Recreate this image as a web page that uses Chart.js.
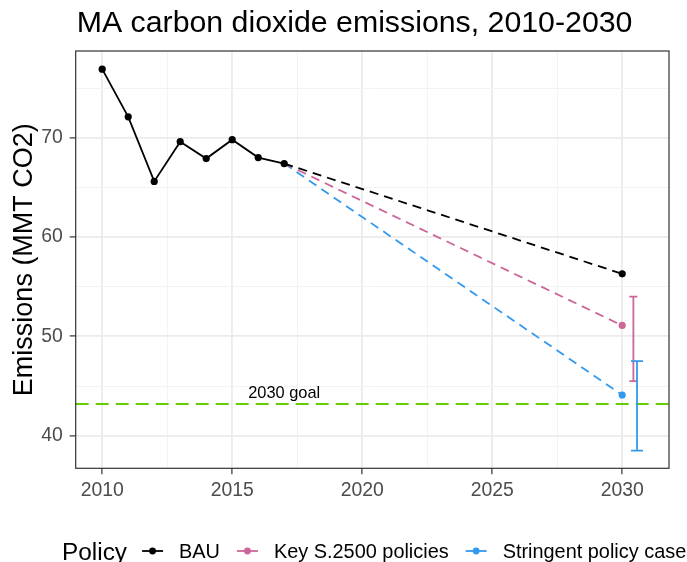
<!DOCTYPE html>
<html>
<head>
<meta charset="utf-8">
<script src="https://cdn.jsdelivr.net/npm/chart.js@4.4.1/dist/chart.umd.min.js"></script>
<style>
  html, body { margin: 0; padding: 0; background: #ffffff; }
  #wrap { width: 687px; height: 562px; }
</style>
</head>
<body>
<div id="wrap"><canvas id="c" width="687" height="562"></canvas></div>
<script>
// Massachusetts CO2 emissions (MMT CO2): history and 2030 projections
const years = [2010, 2011, 2012, 2013, 2014, 2015, 2016, 2017];
const bauHistory = [76.9, 72.1, 65.6, 69.6, 67.9, 69.8, 68.0, 67.4];

const projectionYears = [2017, 2030];
const bauProjection = [67.4, 56.3];
const keyPolicyProjection = [67.4, 51.1];
const stringentProjection = [67.4, 44.1];

// 2030 uncertainty ranges [low, high]
const keyPolicyRange = [45.5, 54.0];
const stringentRange = [38.5, 47.5];

const goal2030 = 43.2;
const goalLabel = '2030 goal';

const xTicks = [2010, 2015, 2020, 2025, 2030];
const yTicks = [40, 50, 60, 70];
const policyNames = ['BAU', 'Key S.2500 policies', 'Stringent policy case'];

const FONT = "'Liberation Sans', Arial, Helvetica, sans-serif";
const COLORS = ['#000000', '#CC6699', '#3399EE'];
const GOAL_COLOR = '#66CC00';

// minor grid lines sit halfway between major ticks
function withMinor(ticks) {
  const out = [];
  const step = ticks[1] - ticks[0];
  for (let i = 0; i < ticks.length; i++) {
    out.push(ticks[i]);
    out.push(ticks[i] + step / 2);
  }
  out.unshift(ticks[0] - step / 2);
  return out;
}
const xGrid = withMinor(xTicks);
const yGrid = withMinor(yTicks);

const pts = (xs, ys) => xs.map((x, i) => ({ x: x, y: ys[i] }));

const POINT_R = 3.6;
const LINE_W = 1.8;
const projRadius = ctx => (ctx.dataIndex === 0 ? 0 : POINT_R);

const datasets = [
  { label: policyNames[0], data: pts(years, bauHistory), borderColor: COLORS[0], backgroundColor: COLORS[0],
    borderWidth: LINE_W, pointRadius: POINT_R, pointBorderWidth: 0 },
  { label: policyNames[0], data: pts(projectionYears, bauProjection), borderColor: COLORS[0], backgroundColor: COLORS[0],
    borderWidth: LINE_W, borderDash: [9, 6], pointRadius: projRadius, pointBorderWidth: 0 },
  { label: policyNames[1], data: pts(projectionYears, keyPolicyProjection), borderColor: COLORS[1], backgroundColor: COLORS[1],
    borderWidth: LINE_W, borderDash: [9, 6], pointRadius: projRadius, pointBorderWidth: 0 },
  { label: policyNames[2], data: pts(projectionYears, stringentProjection), borderColor: COLORS[2], backgroundColor: COLORS[2],
    borderWidth: LINE_W, borderDash: [9, 6], pointRadius: projRadius, pointBorderWidth: 0 }
];

// error bars are dodged slightly to the right of the 2030 points
const errorBars = [
  { range: keyPolicyRange, dodge: 0.43, capHalf: 4, color: COLORS[1] },
  { range: stringentRange, dodge: 0.57, capHalf: 6, color: COLORS[2] }
];

const decorations = {
  id: 'decorations',
  beforeDatasetsDraw(chart) {
    const { ctx, chartArea: a, scales: { x, y } } = chart;
    // 2030 goal reference line
    const gy = y.getPixelForValue(goal2030);
    ctx.save();
    ctx.strokeStyle = GOAL_COLOR;
    ctx.lineWidth = 2;
    ctx.setLineDash([13, 7]);
    ctx.beginPath();
    ctx.moveTo(a.left, gy);
    ctx.lineTo(a.right, gy);
    ctx.stroke();
    ctx.setLineDash([]);
    ctx.fillStyle = '#000000';
    ctx.font = '16.4px ' + FONT;
    ctx.textAlign = 'center';
    ctx.textBaseline = 'middle';
    ctx.fillText(goalLabel, x.getPixelForValue(2017), y.getPixelForValue(44.3));
    ctx.restore();
  },
  afterDatasetsDraw(chart) {
    const { ctx, scales: { x, y } } = chart;
    ctx.save();
    ctx.lineWidth = LINE_W;
    errorBars.forEach(e => {
      const px = x.getPixelForValue(projectionYears[1] + e.dodge);
      const lo = y.getPixelForValue(e.range[0]);
      const hi = y.getPixelForValue(e.range[1]);
      ctx.strokeStyle = e.color;
      ctx.beginPath();
      ctx.moveTo(px, lo); ctx.lineTo(px, hi);
      ctx.moveTo(px - e.capHalf, lo); ctx.lineTo(px + e.capHalf, lo);
      ctx.moveTo(px - e.capHalf, hi); ctx.lineTo(px + e.capHalf, hi);
      ctx.stroke();
    });
    ctx.restore();
  },
  afterDraw(chart) {
    const { ctx, chartArea: a } = chart;
    ctx.save();
    // panel border
    ctx.strokeStyle = '#333333';
    ctx.lineWidth = 1.2;
    ctx.strokeRect(a.left, a.top, a.right - a.left, a.bottom - a.top);

    // title
    ctx.fillStyle = '#000000';
    ctx.textBaseline = 'alphabetic';
    ctx.textAlign = 'left';
    ctx.font = '30.3px ' + FONT;
    ctx.fillText('MA carbon dioxide emissions, 2010-2030', a.left + 1, 32);

    // y axis title
    ctx.save();
    ctx.translate(32, (a.top + a.bottom) / 2);
    ctx.rotate(-Math.PI / 2);
    ctx.textAlign = 'center';
    ctx.font = '27px ' + FONT;
    ctx.fillText('Emissions (MMT CO2)', 0, 0);
    ctx.restore();

    // legend
    const keyY = 551;
    let cx = 62;
    ctx.font = '24.4px ' + FONT;
    ctx.fillText('Policy', cx, 559.5);
    cx += ctx.measureText('Policy').width + 15;
    ctx.font = '19.9px ' + FONT;
    policyNames.forEach((name, i) => {
      ctx.strokeStyle = COLORS[i];
      ctx.fillStyle = COLORS[i];
      ctx.lineWidth = LINE_W;
      ctx.beginPath();
      ctx.moveTo(cx, keyY); ctx.lineTo(cx + 21, keyY);
      ctx.stroke();
      ctx.beginPath();
      ctx.arc(cx + 10.5, keyY, 3.4, 0, Math.PI * 2);
      ctx.fill();
      cx += 21 + 16;
      ctx.fillStyle = '#000000';
      ctx.fillText(name, cx, 558);
      cx += ctx.measureText(name).width + 17;
    });
    ctx.restore();
  }
};

const isMajorX = v => xTicks.includes(v);
const isMajorY = v => yTicks.includes(v);

new Chart(document.getElementById('c'), {
  type: 'line',
  data: { datasets: datasets },
  plugins: [decorations],
  options: {
    responsive: false,
    animation: false,
    devicePixelRatio: 1,
    layout: { padding: { top: 51, right: 18, bottom: 0, left: 0 } },
    plugins: { legend: { display: false }, tooltip: { enabled: false }, title: { display: false } },
    elements: { line: { tension: 0 } },
    scales: {
      x: {
        type: 'linear',
        min: 2008.98,
        max: 2031.8,
        afterBuildTicks: s => { s.ticks = xGrid.filter(v => v > s.min && v < s.max).map(v => ({ value: v })); },
        afterFit: s => { s.height = 93.7; },
        border: { display: false },
        grid: {
          color: c => (isMajorX(c.tick.value) ? '#EBEBEB' : '#F3F3F3'),
          lineWidth: c => (isMajorX(c.tick.value) ? 1.8 : 1),
          tickLength: 6,
          tickWidth: 1.2,
          tickColor: c => (isMajorX(c.tick.value) ? '#333333' : 'rgba(0,0,0,0)')
        },
        ticks: {
          autoSkip: false, maxRotation: 0, padding: 5, color: '#4D4D4D',
          font: { family: FONT, size: 19.4 },
          callback: v => (isMajorX(v) ? String(v) : '')
        }
      },
      y: {
        type: 'linear',
        min: 36.72,
        max: 78.73,
        afterBuildTicks: s => { s.ticks = yGrid.filter(v => v > s.min && v < s.max).map(v => ({ value: v })); },
        afterFit: s => { s.width = 75.7; },
        border: { display: false },
        grid: {
          color: c => (isMajorY(c.tick.value) ? '#EBEBEB' : '#F3F3F3'),
          lineWidth: c => (isMajorY(c.tick.value) ? 1.8 : 1),
          tickLength: 6,
          tickWidth: 1.2,
          tickColor: c => (isMajorY(c.tick.value) ? '#333333' : 'rgba(0,0,0,0)')
        },
        ticks: {
          autoSkip: false, padding: 7, color: '#4D4D4D',
          font: { family: FONT, size: 19.4 },
          callback: v => (isMajorY(v) ? String(v) : '')
        }
      }
    }
  }
});
</script>
</body>
</html>
